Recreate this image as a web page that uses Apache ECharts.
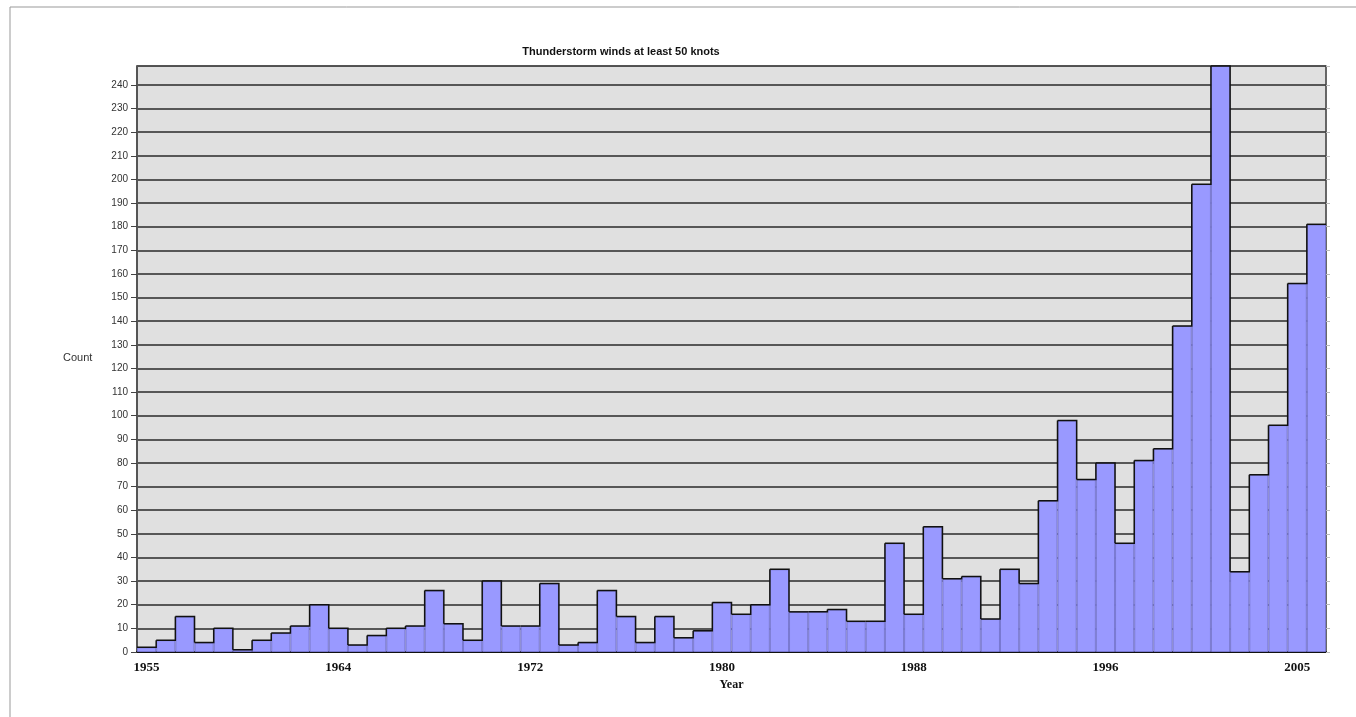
<!DOCTYPE html>
<html>
<head>
<meta charset="utf-8">
<script src="https://cdn.jsdelivr.net/npm/echarts@6/dist/echarts.min.js"></script>
<style>html,body{margin:0;padding:0;background:#fff}#c{width:1356px;height:717px}</style>
</head>
<body>
<div id="c"></div>
<script>
// Histogram bins (62 bins), tick labels at every 10th bin
const tickLabels = ['1955', '1964', '1972', '1980', '1988', '1996', '2005'];
const counts = [2, 5, 15, 4, 10, 1, 5, 8, 11, 20,
  10, 3, 7, 10, 11, 26, 12, 5, 30, 11,
  11, 29, 3, 4, 26, 15, 4, 15, 6, 9,
  21, 16, 20, 35, 17, 17, 18, 13, 13, 46,
  16, 53, 31, 32, 14, 35, 29, 64, 98, 73,
  80, 46, 81, 86, 138, 198, 248, 34, 75, 96,
  156, 181];
const bins = counts.map((v, i) => 'bin' + (i + 1));
const yTicksMax = 248;

const chart = echarts.init(document.getElementById('c'));
chart.setOption({
  animation: false,
  backgroundColor: '#ffffff',
  title: {
    text: 'Thunderstorm winds at least 50 knots',
    left: 616, top: 41, textAlign: 'center',
    textStyle: {fontFamily: 'Liberation Sans', fontWeight: 'bold', fontSize: 11, color: '#111'}
  },
  grid: {
    left: 137, right: 30, top: 66, bottom: 65,
    show: true, backgroundColor: '#e0e0e0', borderColor: '#aaaaaa', borderWidth: 1
  },
  graphic: [
    {type: 'line', shape: {x1: 10, y1: 7, x2: 1356, y2: 7}, style: {stroke: '#999', lineWidth: 1}},
    {type: 'line', shape: {x1: 10, y1: 7, x2: 10, y2: 717}, style: {stroke: '#999', lineWidth: 1}},
    {type: 'text', left: 63, top: 352, style: {text: 'Count', font: '11px "Liberation Sans"', fill: '#333'}}
  ],
  xAxis: {
    type: 'category',
    data: bins,
    boundaryGap: true,
    axisLine: {lineStyle: {color: '#111', width: 2}},
    axisTick: {interval: 9, alignWithLabel: true, length: 5, lineStyle: {color: '#111', width: 1.5}},
    axisLabel: {
      interval: 9, margin: 9,
      formatter: (v, i) => tickLabels[i / 10] || '',
      fontFamily: 'Liberation Serif', fontWeight: 'bold', fontSize: 13, color: '#111'
    },
    splitLine: {show: false},
    name: 'Year', nameLocation: 'middle', nameGap: 27,
    nameTextStyle: {fontFamily: 'Liberation Serif', fontWeight: 'bold', fontSize: 12, color: '#111'}
  },
  yAxis: [{
    type: 'value', min: 0, max: yTicksMax, interval: 10,
    axisLine: {show: true, lineStyle: {color: '#555', width: 2}},
    axisTick: {show: true, length: 6, lineStyle: {color: '#444', width: 1}},
    axisLabel: {
      showMaxLabel: false, margin: 9,
      formatter: v => (v % 10 === 0 ? String(v) : ''),
      fontFamily: 'Liberation Sans', fontSize: 10, color: '#333'
    },
    splitLine: {show: true, lineStyle: {color: '#2a2a2a', width: 1.5}}
  }, {
    type: 'value', min: 0, max: yTicksMax, interval: 10, position: 'right',
    axisLine: {show: true, lineStyle: {color: '#444', width: 1.5}},
    axisTick: {show: true, length: 4, lineStyle: {color: '#bbb', width: 1}},
    axisLabel: {show: false},
    splitLine: {show: false}
  }],
  series: [{
    type: 'bar',
    data: counts,
    barCategoryGap: '0%',
    itemStyle: {color: '#9999ff', borderColor: '#7878d0', borderWidth: 1}
  }, {
    type: 'custom',
    data: counts.map((v, i) => [i, v]),
    z: 5,
    renderItem: function (params, api) {
      const i = api.value(0);
      const p = api.coord([i, api.value(1)]);
      const w = api.size([1, 0])[0];
      const pts = [[p[0] - w / 2, p[1]], [p[0] + w / 2, p[1]]];
      if (i + 1 < counts.length) {
        const q = api.coord([i + 1, counts[i + 1]]);
        pts.push([p[0] + w / 2, q[1]]);
      }
      return {
        type: 'polyline',
        shape: {points: pts},
        style: {stroke: '#111', lineWidth: 1.5, fill: null}
      };
    }
  }]
});
</script>
</body>
</html>
